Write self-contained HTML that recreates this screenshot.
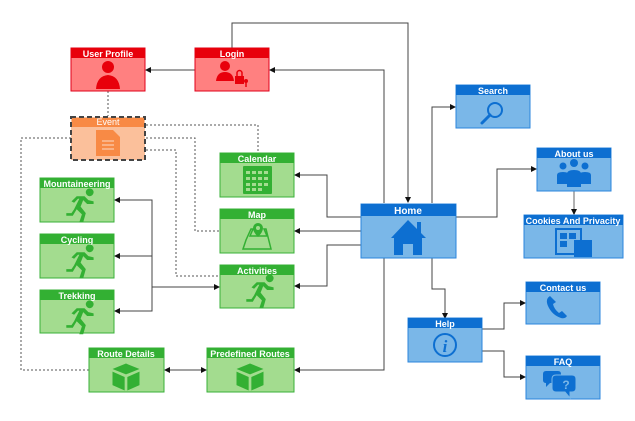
<!DOCTYPE html>
<html><head><meta charset="utf-8"><style>
html,body{margin:0;padding:0;background:#fff;}
svg{display:block;font-family:"Liberation Sans",sans-serif;}
.t{font-size:9px;font-weight:bold;fill:#fff;text-anchor:middle;}
.l{stroke:#444;stroke-width:1;fill:none;}
.g{stroke:#999;stroke-width:1.5;fill:none;}
.d{stroke:#555;stroke-width:1;fill:none;stroke-dasharray:2,2;}
</style></head><body>
<svg width="635" height="421" viewBox="0 0 635 421">
<defs>
<marker id="a" markerWidth="6" markerHeight="6" refX="5" refY="3" orient="auto" markerUnits="userSpaceOnUse"><path d="M0,0 L6,3 L0,6 z" fill="#111"/></marker>
<marker id="s" markerWidth="6" markerHeight="6" refX="1" refY="3" orient="auto" markerUnits="userSpaceOnUse"><path d="M6,0 L0,3 L6,6 z" fill="#111"/></marker>
<g id="run" transform="scale(1.3)"><circle cx="9" cy="-9" r="3"/><path d="M-9,9 L-4,9 L-1,4 L3,8 L1,14 L4,14 L6,7 L2,2 L4,-3 L7,0 L12,0 L12,-2 L8,-3 L5,-6 L-1,-6 L-5,-2 L-3,-1 L0,-4 L1,-4 L-3,4 L-5,7 L-9,7 z"/></g>
<g id="box" transform="scale(1.35)"><path d="M0,-7 L10,-3 L0,1 L-10,-3 z"/><path d="M-10,-1 L-1,3 L-1,13 L-10,9 z"/><path d="M10,-1 L1,3 L1,13 L10,9 z"/></g>
</defs>

<!-- connectors -->
<polyline class="l" points="232,48 232,23 408,23 408,202" marker-end="url(#a)"/>
<polyline class="l" points="384,203 384,70 270,70" marker-end="url(#a)"/>
<line class="l" x1="195" y1="70" x2="146" y2="70" marker-end="url(#a)"/>
<polyline class="l" points="384,258 384,370 295,370" marker-end="url(#a)"/>
<polyline class="l" points="361,217 327,217 327,175 295,175" marker-end="url(#a)"/>
<line class="l" x1="361" y1="231" x2="295" y2="231" marker-end="url(#a)"/>
<polyline class="l" points="361,245 327,245 327,286 295,286" marker-end="url(#a)"/>
<polyline class="l" points="432,203 432,107 455,107" marker-end="url(#a)"/>
<polyline class="l" points="456,217 497,217 497,169 536,169" marker-end="url(#a)"/>
<line class="g" x1="574" y1="191" x2="574" y2="214" marker-end="url(#a)"/>
<polyline class="l" points="432,258 432,289 445,289 445,318" marker-end="url(#a)"/>
<polyline class="l" points="482,329 504,329 504,303 525,303" marker-end="url(#a)"/>
<polyline class="l" points="482,351 504,351 504,377 525,377" marker-end="url(#a)"/>
<polyline class="l" points="152,287 152,200 115,200" marker-end="url(#a)"/>
<line class="l" x1="152" y1="256" x2="115" y2="256" marker-end="url(#a)"/>
<polyline class="l" points="152,287 152,311 115,311" marker-end="url(#a)"/>
<line class="l" x1="152" y1="287" x2="219" y2="287" marker-end="url(#a)"/>
<line class="l" x1="165" y1="370" x2="206" y2="370" marker-start="url(#s)" marker-end="url(#a)"/>
<!-- dotted -->
<line class="d" x1="108" y1="91" x2="108" y2="116"/>
<polyline class="d" points="146,125 258,125 258,153"/>
<polyline class="d" points="146,138 195,138 195,231 220,231"/>
<polyline class="d" points="146,150 176,150 176,276 220,276"/>
<polyline class="d" points="71,138 21,138 21,370 89,370"/>

<!-- red nodes -->
<rect x="71" y="48" width="74" height="43" fill="#ff8080" stroke="#e0001a"/>
<rect x="71" y="48" width="74" height="10" fill="#e8000b"/>
<text class="t" x="108" y="57">User Profile</text>
<circle cx="108" cy="67" r="6" fill="#e8000b"/><path d="M96,89 Q97,76 108,75 Q119,76 120,89 z" fill="#e8000b"/>
<rect x="195" y="48" width="74" height="43" fill="#ff8080" stroke="#e0001a"/>
<rect x="195" y="48" width="74" height="10" fill="#e8000b"/>
<text class="t" x="232" y="57">Login</text>
<circle cx="225" cy="66" r="5" fill="#e8000b"/><path d="M216,81 Q217,72 225,72 Q233,72 234,81 z" fill="#e8000b"/>
<rect x="235" y="76" width="9" height="8" fill="#e8000b"/><path d="M237,76 v-3 a2.5,2.5 0 0 1 5,0 v3" stroke="#e8000b" stroke-width="1.5" fill="none"/>
<circle cx="246" cy="81" r="2" fill="#e8000b"/><line x1="246" y1="81" x2="246" y2="87" stroke="#e8000b" stroke-width="1.5"/>

<!-- event -->
<rect x="71" y="117" width="74" height="43" fill="#fbc09b" stroke="#444" stroke-width="2" stroke-dasharray="5,3"/>
<rect x="72" y="118" width="72" height="9" fill="#f88a45"/>
<text class="t" x="108" y="125" style="font-weight:normal">Event</text>
<path d="M96,130 L113,130 L120,137 L120,156 L96,156 z" fill="#f88a45"/>
<g stroke="#fbc09b" stroke-width="1.5"><line x1="102" y1="141" x2="114" y2="141"/><line x1="102" y1="145" x2="114" y2="145"/><line x1="102" y1="149" x2="114" y2="149"/></g>

<!-- green nodes -->
<g fill="#a3dc8f" stroke="#38b038">
<rect x="220" y="153" width="74" height="44"/><rect x="220" y="209" width="74" height="44"/><rect x="220" y="265" width="74" height="43"/>
<rect x="40" y="178" width="74" height="44"/><rect x="40" y="234" width="74" height="44"/><rect x="40" y="290" width="74" height="43"/>
<rect x="89" y="348" width="75" height="44"/><rect x="207" y="348" width="87" height="44"/>
</g>
<g fill="#33b033">
<rect x="220" y="153" width="74" height="10"/><rect x="220" y="209" width="74" height="10"/><rect x="220" y="265" width="74" height="10"/>
<rect x="40" y="178" width="74" height="10"/><rect x="40" y="234" width="74" height="10"/><rect x="40" y="290" width="74" height="10"/>
<rect x="89" y="348" width="75" height="10"/><rect x="207" y="348" width="87" height="10"/>
</g>
<text class="t" x="257" y="162">Calendar</text>
<text class="t" x="257" y="218">Map</text>
<text class="t" x="257" y="274">Activities</text>
<text class="t" x="77" y="187">Mountaineering</text>
<text class="t" x="77" y="243">Cycling</text>
<text class="t" x="77" y="299">Trekking</text>
<text class="t" x="126" y="357">Route Details</text>
<text class="t" x="250" y="357">Predefined Routes</text>
<g fill="#33b033">
<rect x="243" y="166" width="29" height="28" rx="1"/>
<g transform="translate(258,290)"><use href="#run"/></g>
<g transform="translate(78,204)"><use href="#run"/></g>
<g transform="translate(78,260)"><use href="#run"/></g>
<g transform="translate(78,316)"><use href="#run"/></g>
<g transform="translate(126,373)"><use href="#box"/></g>
<g transform="translate(250,373)"><use href="#box"/></g>
<path d="M258,223 a5,5 0 0 1 5,5 q0,4 -5,9 q-5,-5 -5,-9 a5,5 0 0 1 5,-5z"/>
<path d="M246,240 L251,229 L253,229 L250,236 L267,236 L264,229 L266,229 L271,249 L243,249z" fill="none" stroke="#33b033" stroke-width="1.5"/>
</g>
<g fill="#a3dc8f"><rect x="246" y="171" width="4" height="3"/><rect x="252" y="171" width="4" height="3"/><rect x="258" y="171" width="4" height="3"/><rect x="264" y="171" width="4" height="3"/>
<rect x="246" y="177" width="4" height="3"/><rect x="252" y="177" width="4" height="3"/><rect x="258" y="177" width="4" height="3"/><rect x="264" y="177" width="4" height="3"/>
<rect x="246" y="183" width="4" height="3"/><rect x="252" y="183" width="4" height="3"/><rect x="258" y="183" width="4" height="3"/><rect x="264" y="183" width="4" height="3"/>
<rect x="246" y="188" width="4" height="3"/><rect x="252" y="188" width="4" height="3"/><rect x="258" y="188" width="4" height="3"/>
<circle cx="258" cy="228" r="2"/></g>

<!-- blue nodes -->
<g fill="#7ab7e8" stroke="#2b86dd">
<rect x="361" y="204" width="95" height="54"/><rect x="456" y="85" width="74" height="43"/><rect x="537" y="148" width="74" height="43"/>
<rect x="524" y="215" width="99" height="43"/><rect x="408" y="318" width="74" height="44"/><rect x="526" y="282" width="74" height="42"/><rect x="526" y="356" width="74" height="43"/>
</g>
<g fill="#0d6fd1">
<rect x="361" y="204" width="95" height="12"/><rect x="456" y="85" width="74" height="10"/><rect x="537" y="148" width="74" height="10"/>
<rect x="524" y="215" width="99" height="10"/><rect x="408" y="318" width="74" height="10"/><rect x="526" y="282" width="74" height="10"/><rect x="526" y="356" width="74" height="10"/>
</g>
<text class="t" x="408" y="214" style="font-size:10px">Home</text>
<text class="t" x="493" y="94">Search</text>
<text class="t" x="574" y="157">About us</text>
<text class="t" x="573" y="224">Cookies And Privacity</text>
<text class="t" x="445" y="327">Help</text>
<text class="t" x="563" y="291">Contact us</text>
<text class="t" x="563" y="365">FAQ</text>
<g fill="#0d6fd1">
<path d="M391,238 L408,220 L417,229 L417,222 L421,222 L421,233 L426,238 L422,238 L422,255 L413,255 L413,244 L403,244 L403,255 L394,255 L394,238z"/>
<circle cx="495" cy="110" r="7" fill="none" stroke="#0d6fd1" stroke-width="2"/><line x1="490" y1="115" x2="482" y2="123" stroke="#0d6fd1" stroke-width="3" stroke-linecap="round"/>
<circle cx="563" cy="166" r="3.5"/><circle cx="585" cy="166" r="3.5"/><circle cx="574" cy="163" r="4"/>
<path d="M557,184 v-9 q0,-3 6,-3 q6,0 6,3 v9z"/><path d="M579,184 v-9 q0,-3 6,-3 q6,0 6,3 v9z"/><path d="M567,187 v-13 q0,-4 7,-4 q7,0 7,4 v13z"/>
<rect x="556" y="229" width="25" height="25" fill="none" stroke="#0d6fd1" stroke-width="2"/>
<rect x="560" y="233" width="7" height="6"/><rect x="569" y="233" width="7" height="6"/><rect x="560" y="241" width="7" height="6"/><rect x="574" y="240" width="18" height="17"/>
<circle cx="445" cy="345" r="11" fill="none" stroke="#0d6fd1" stroke-width="2"/>
<text x="445" y="352" style="font-family:'Liberation Serif',serif;font-style:italic;font-weight:bold;font-size:17px;text-anchor:middle" fill="#0d6fd1">i</text>
<path d="M550,296 q-5,3 -2,10 q4,9 13,12 q4,1 6,-2 l-5,-5 l-3,2 q-5,-4 -6,-9 l3,-2z"/>
<path d="M546,371 h12 q3,0 3,3 v6 q0,3 -3,3 h-8 l-4,4 v-4 q-3,0 -3,-3 v-6 q0,-3 3,-3z"/>
<path d="M556,375 h16 q4,0 4,4 v9 q0,4 -4,4 h-2 l0,6 l-5,-6 h-9 q-4,0 -4,-4 v-9 q0,-4 4,-4z" stroke="#7ab7e8"/>
</g>
<text x="566" y="389" style="font-weight:bold;font-size:12px;text-anchor:middle" fill="#7ab7e8">?</text>
</svg>
</body></html>
